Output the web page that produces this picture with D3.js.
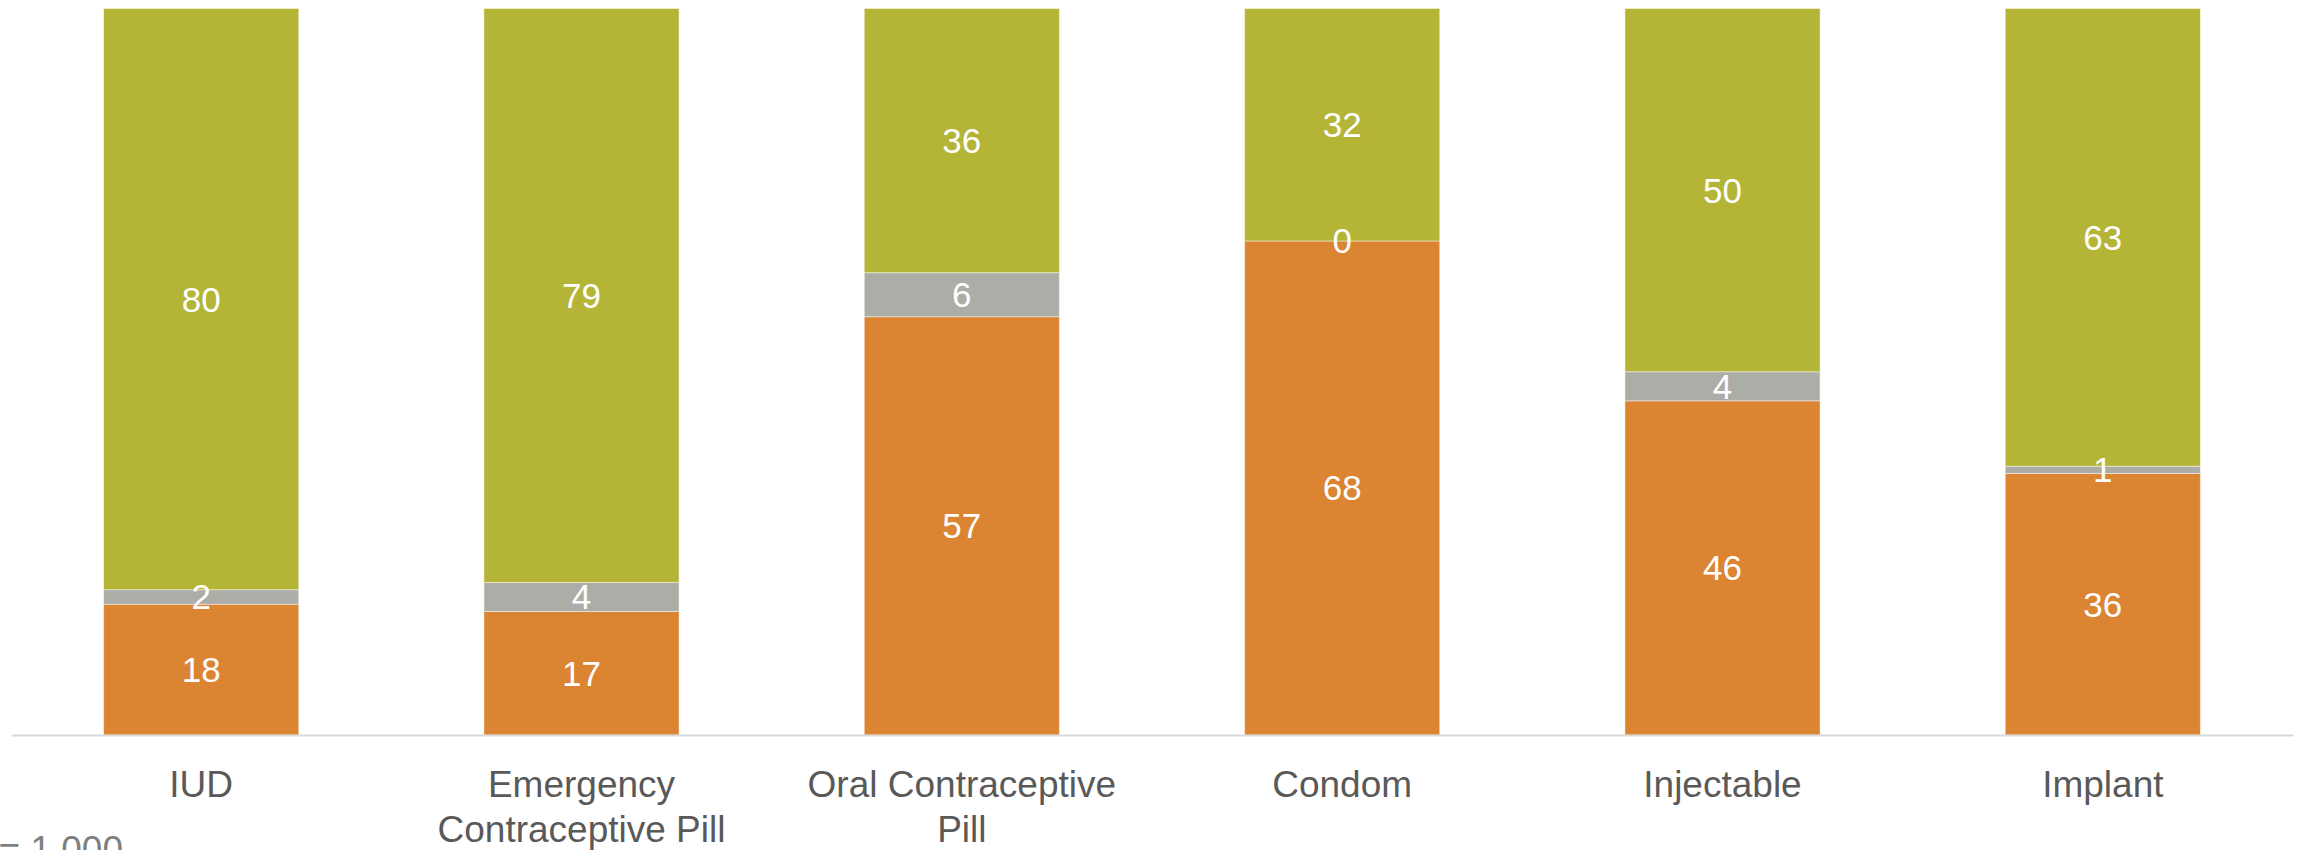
<!DOCTYPE html>
<html>
<head>
<meta charset="utf-8">
<script src="https://cdn.jsdelivr.net/npm/d3@7"></script>
<style>
  html, body { margin: 0; padding: 0; background: #fff; overflow: hidden; }
  svg { display: block; }
</style>
</head>
<body>
<svg id="chart" width="2297" height="850"></svg>
<script>
// Contraceptive methods, share of responses per method (100% stacked)
const categories = ["IUD", "Emergency Contraceptive Pill", "Oral Contraceptive Pill", "Condom", "Injectable", "Implant"];
const categoryLines = [["IUD"], ["Emergency", "Contraceptive Pill"], ["Oral Contraceptive", "Pill"], ["Condom"], ["Injectable"], ["Implant"]];
const seriesKeys = ["orange", "gray", "green"];
const orangeValues = [18, 17, 57, 68, 46, 36];
const grayValues = [2, 4, 6, 0, 4, 1];
const greenValues = [80, 79, 36, 32, 50, 63];
const seriesColors = ["#DB8431", "#ADADA8", "#B4B437"];
const footnote = "n = 1,000";

const svg = d3.select("#chart");
const plot = { left: 11, right: 2293, top: 8.5, bottom: 735 };

const rows = categories.map((c, i) => ({
  category: c,
  orange: orangeValues[i],
  gray: grayValues[i],
  green: greenValues[i]
}));

const stack = d3.stack().keys(seriesKeys).offset(d3.stackOffsetExpand);
const stacked = stack(rows);

const x = d3.scaleBand()
  .domain(categories)
  .range([plot.left, plot.right])
  .paddingInner(0.487)
  .paddingOuter(0.2435);

const y = d3.scaleLinear().domain([0, 1]).range([plot.bottom, plot.top]);
const color = d3.scaleOrdinal().domain(seriesKeys).range(seriesColors);

// stacked segments
const layers = svg.append("g").selectAll("g")
  .data(stacked)
  .join("g")
  .attr("fill", d => color(d.key));

layers.selectAll("rect")
  .data(d => d.map(s => ({ s, key: d.key })))
  .join("rect")
  .attr("x", d => x(d.s.data.category))
  .attr("width", x.bandwidth())
  .attr("y", d => y(d.s[1]))
  .attr("height", d => y(d.s[0]) - y(d.s[1]))
  .attr("stroke", "#ffffff")
  .attr("stroke-opacity", 0.45)
  .attr("stroke-width", 1);

// baseline axis
const xAxis = d3.axisBottom(x).tickSize(0).tickFormat("");
const axisG = svg.append("g")
  .attr("transform", `translate(0,${plot.bottom})`)
  .call(xAxis);
axisG.select(".domain").attr("stroke", "#D9D9D9").attr("stroke-width", 2);

// category labels
const labelG = svg.append("g")
  .attr("font-family", "'Liberation Sans', Arial, sans-serif")
  .attr("font-size", 37)
  .attr("fill", "#595959")
  .attr("text-anchor", "middle");

categories.forEach((c, i) => {
  const cx = x(c) + x.bandwidth() / 2;
  const t = labelG.append("text");
  categoryLines[i].forEach((line, j) => {
    t.append("tspan").attr("x", cx).attr("y", 797 + j * 45).text(line);
  });
});

// data labels, centred in each segment
const dataG = svg.append("g")
  .attr("font-family", "'Liberation Sans', Arial, sans-serif")
  .attr("font-size", 35)
  .attr("fill", "#ffffff")
  .attr("text-anchor", "middle")
  .attr("dominant-baseline", "central");

stacked.forEach(layer => {
  layer.forEach(s => {
    dataG.append("text")
      .attr("x", x(s.data.category) + x.bandwidth() / 2)
      .attr("y", (y(s[0]) + y(s[1])) / 2)
      .text(s.data[layer.key]);
  });
});

// sample size note, partly below the frame
svg.append("text")
  .attr("x", 123)
  .attr("y", 862)
  .attr("text-anchor", "end")
  .attr("font-family", "'Liberation Sans', Arial, sans-serif")
  .attr("font-size", 37)
  .attr("fill", "#7F7F7F")
  .text(footnote);
</script>
</body>
</html>
